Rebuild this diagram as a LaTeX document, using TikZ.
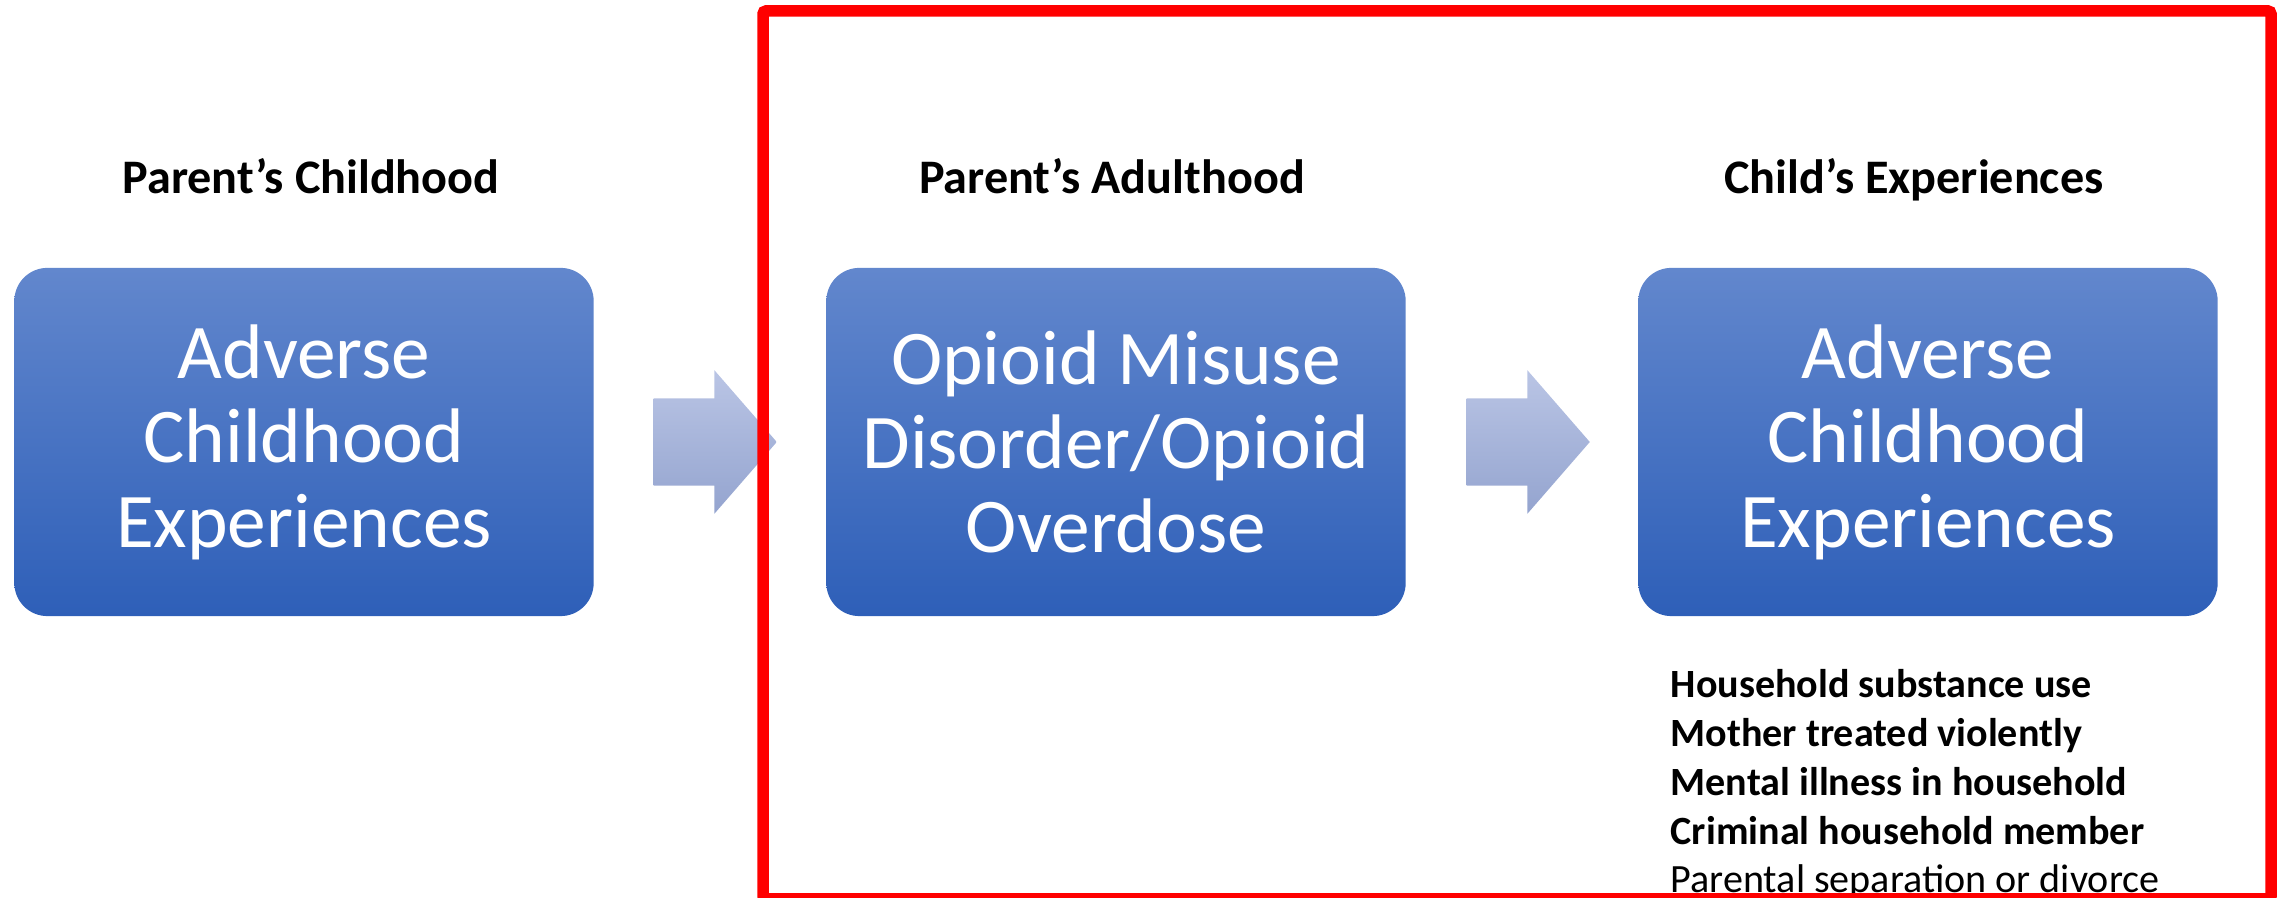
\documentclass[tikz,border=0pt]{standalone}
\usepackage{fontspec}
\setmainfont{Carlito}
\usetikzlibrary{shapes.arrows}

\definecolor{boxtop}{RGB}{98,135,205}
\definecolor{boxmid}{RGB}{68,114,196}
\definecolor{boxbot}{RGB}{46,95,184}
\definecolor{arrtop}{RGB}{186,197,229}
\definecolor{arrbot}{RGB}{148,164,207}

\begin{document}
\begin{tikzpicture}[x=0.01cm, y=-0.01cm,
	stage/.style={rectangle, rounded corners=0.33cm, minimum width=5.79cm, minimum height=3.48cm,
		top color=boxtop, middle color=boxmid, bottom color=boxbot, draw=none,
		text=white, align=center, inner sep=0pt, font=\fontsize{22}{24}\selectfont},
	phase/.style={anchor=base, inner sep=0pt, font=\fontsize{13.7}{16}\selectfont\bfseries},
	flow/.style={shape=single arrow, anchor=tail, inner sep=0pt, inner ysep=0.43cm,
		single arrow head extend=0.28cm, single arrow tip angle=98, minimum height=1.23cm,
		top color=arrtop, bottom color=arrbot, draw=none},
	frame/.style={draw=red, line width=0.115cm, rounded corners=0.03cm}]
				\useasboundingbox (0,0) rectangle (2287,898);
				
				\node[phase] (t1) at (311,194) {Parent’s Childhood};
				\node[phase] (t2) at (1112,194) {Parent’s Adulthood};
				\node[phase] (t3) at (1914,194) {Child’s Experiences};
				
				\node[stage] (b1) at (304,442) {Adverse\\Childhood\\Experiences};
				\node[stage] (b2) at (1116,442) {Opioid Misuse\\Disorder/Opioid\\Overdose};
				\node[stage] (b3) at (1928,442) {Adverse\\Childhood\\Experiences};
				
				\node[flow] (a1) at (653,442) {};
				\node[flow] (a2) at (1466,442) {};
				
				\node[anchor=north west, inner sep=0pt, align=left, font=\fontsize{11.4}{13.87}\selectfont] (aces) at (1670,669)
					{\textbf{Household substance use}\\\textbf{Mother treated violently}\\\textbf{Mental illness in household}\\\textbf{Criminal household member}\\Parental separation or divorce};
				
				\draw[frame] (763,11) rectangle (2271,899);
			\end{tikzpicture}
\end{document}
